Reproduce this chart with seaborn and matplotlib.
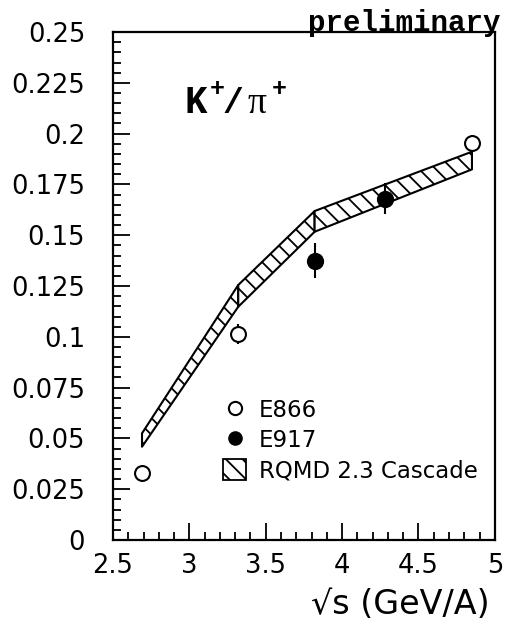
import numpy as np
import pandas as pd
import seaborn as sns
import matplotlib
matplotlib.use("Agg")
import matplotlib.pyplot as plt
from matplotlib.lines import Line2D
from matplotlib.patches import Patch
from matplotlib.ticker import MultipleLocator

# ---- data ----
e866_x = [2.69, 3.32, 4.85]
e866_y = [0.033, 0.1013, 0.1953]
e866_err = [0.0, 0.005, 0.004]

e917_x = [3.82, 4.28]
e917_y = [0.1375, 0.168]
e917_err = [0.0085, 0.0075]

rqmd_x = [2.69, 3.32, 3.82, 4.85]
rqmd_lo = [0.0459, 0.1148, 0.1517, 0.1824]
rqmd_hi = [0.0525, 0.1255, 0.1619, 0.1911]

x_ticks = [2.5, 3, 3.5, 4, 4.5, 5]
x_ticklabels = ['2.5', '3', '3.5', '4', '4.5', '5']
y_ticks = [0, 0.025, 0.05, 0.075, 0.1, 0.125, 0.15, 0.175, 0.2, 0.225, 0.25]
y_ticklabels = ['0', '0.025', '0.05', '0.075', '0.1', '0.125', '0.15', '0.175', '0.2', '0.225', '0.25']

sns.set_style("ticks")
plt.rcParams['font.family'] = ['DejaVu Sans']
plt.rcParams['hatch.linewidth'] = 1.3
plt.rcParams['hatch.color'] = 'black'
plt.rcParams['text.color'] = 'black'
plt.rcParams['axes.edgecolor'] = 'black'
plt.rcParams['xtick.color'] = 'black'
plt.rcParams['ytick.color'] = 'black'
plt.rcParams['axes.labelcolor'] = 'black'

fig = plt.figure(figsize=(5.06, 6.28), dpi=100)
ax = fig.add_axes([0.2233, 0.1401, 0.7547, 0.8089])

# RQMD band, drawn segment by segment
for i in range(len(rqmd_x) - 1):
    ax.fill_between(rqmd_x[i:i+2], rqmd_lo[i:i+2], rqmd_hi[i:i+2],
                    facecolor='white', edgecolor='black', hatch='\\\\', lw=1.5, zorder=2)

df866 = pd.DataFrame({'x': e866_x, 'y': e866_y})
df917 = pd.DataFrame({'x': e917_x, 'y': e917_y})

ax.errorbar(e866_x, e866_y, yerr=e866_err, fmt='none', ecolor='black', elinewidth=1.5, zorder=3)
ax.errorbar(e917_x, e917_y, yerr=e917_err, fmt='none', ecolor='black', elinewidth=1.5, zorder=3)
sns.scatterplot(data=df866, x='x', y='y', ax=ax, marker='o', s=115,
                facecolor='white', edgecolor='black', linewidth=1.5, zorder=4, legend=False)
sns.scatterplot(data=df917, x='x', y='y', ax=ax, marker='o', s=130,
                color='black', edgecolor='black', linewidth=1.0, zorder=4, legend=False)

ax.set_xlim(2.5, 5.0)
ax.set_ylim(0, 0.25)
ax.xaxis.set_minor_locator(MultipleLocator(0.1))
ax.yaxis.set_minor_locator(MultipleLocator(0.005))
ax.set_xticks(x_ticks)
ax.set_xticklabels(x_ticklabels)
ax.set_yticks(y_ticks)
ax.set_yticklabels(y_ticklabels)
ax.tick_params(which='both', direction='in', top=False, right=False, width=1.3, labelsize=18.5)
ax.tick_params(which='major', length=12)
ax.tick_params(which='minor', length=6)
ax.tick_params(axis='y', which='major', pad=20)
ax.tick_params(axis='x', which='major', pad=9)
for s in ax.spines.values():
    s.set_linewidth(1.6)
    s.set_visible(True)
    s.set_color('black')

ax.set_xlabel('√s (GeV/A)', fontsize=24, loc='right')
ax.xaxis.set_label_coords(0.985, -0.095)
ax.set_ylabel('')

# K+/pi+ label built from pieces (each glyph centred)
mono = dict(family='Liberation Mono', fontweight='bold')
base_y = 0.8406
sup_y = 0.875
ax.text(0.216, base_y, 'K', transform=ax.transAxes, fontsize=27, va='baseline', ha='center', **mono)
ax.text(0.2736, sup_y, '+', transform=ax.transAxes, fontsize=18, va='baseline', ha='center', **mono)
ax.text(0.3141, base_y, '/', transform=ax.transAxes, fontsize=25, va='baseline', ha='center', **mono)
ax.text(0.3783, base_y, 'π', transform=ax.transAxes, fontsize=27, va='baseline', ha='center',
        family='Liberation Serif')
ax.text(0.4346, sup_y, '+', transform=ax.transAxes, fontsize=18, va='baseline', ha='center', **mono)

fig.text(0.99, 0.985, 'preliminary', fontsize=21, fontweight='bold', family='Liberation Mono',
         ha='right', va='top')

handles = [
    Line2D([], [], marker='o', ls='none', markerfacecolor='white', markeredgecolor='black',
           markersize=9.5, markeredgewidth=1.5),
    Line2D([], [], marker='o', ls='none', markerfacecolor='black', markeredgecolor='black',
           markersize=9.5),
    Patch(facecolor='white', edgecolor='black', hatch='\\\\', lw=1.3),
]
ax.legend(handles, ['E866', 'E917', 'RQMD 2.3 Cascade'], loc='upper left',
          bbox_to_anchor=(0.265, 0.295), frameon=False, fontsize=16.5, handlelength=1.0,
          handleheight=1.0, handletextpad=0.55, labelspacing=0.3, borderaxespad=0)

fig.savefig('out.png', dpi=100)
